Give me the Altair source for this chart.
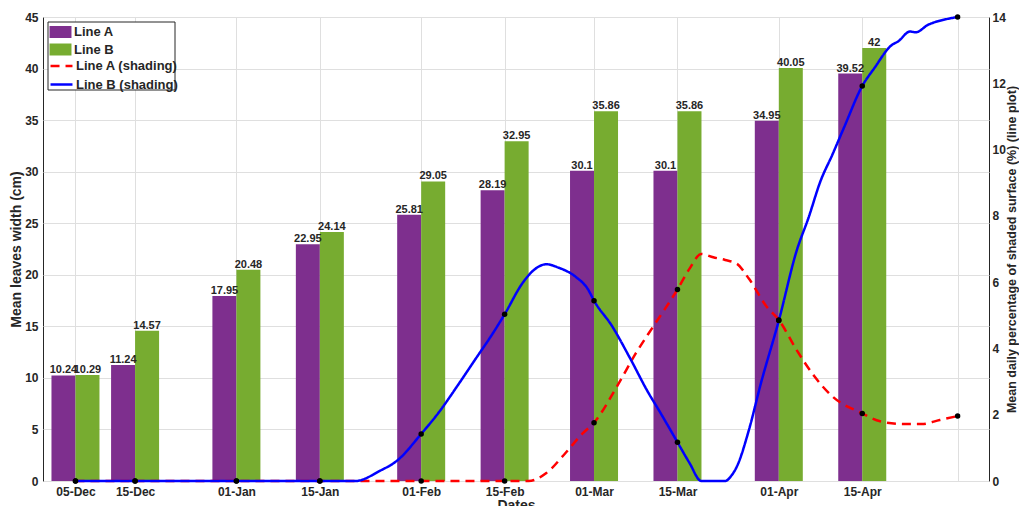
import altair as alt
import pandas as pd

# ---------------- data ----------------
dates = ["2019-12-05", "2019-12-15", "2020-01-01", "2020-01-15", "2020-02-01",
         "2020-02-15", "2020-03-01", "2020-03-15", "2020-04-01", "2020-04-15"]
line_a = [10.24, 11.24, 17.95, 22.95, 25.81, 28.19, 30.1, 30.1, 34.95, 39.52]
line_b = [10.29, 14.57, 20.48, 24.14, 29.05, 32.95, 35.86, 35.86, 40.05, 42]

dot_dates = dates + ["2020-05-01"]
dots_a = [0, 0, 0, 0, 0, 0, 1.76, 5.78, 4.86, 2.04, 1.96]
dots_b = [0, 0, 0, 0, 1.42, 5.03, 5.44, 1.17, 4.84, 11.92, 14.0]

curve_a_dates = ["2019-12-05", "2019-12-15", "2020-01-01", "2020-01-15", "2020-02-01",
                 "2020-02-15", "2020-02-19", "2020-02-22", "2020-02-25", "2020-02-28",
                 "2020-03-01", "2020-03-05", "2020-03-08", "2020-03-11", "2020-03-15",
                 "2020-03-17", "2020-03-19", "2020-03-21", "2020-03-23", "2020-03-25",
                 "2020-03-27", "2020-03-30", "2020-04-01", "2020-04-04", "2020-04-07",
                 "2020-04-10", "2020-04-15", "2020-04-18", "2020-04-22", "2020-04-25",
                 "2020-04-28", "2020-05-01"]
curve_a_vals = [0, 0, 0, 0, 0,
                0, 0, 0.24, 0.80, 1.42,
                1.76, 2.90, 3.85, 4.68, 5.78,
                6.40, 6.85, 6.75, 6.67, 6.55,
                6.10, 5.25, 4.86, 3.95, 3.15,
                2.55, 2.04, 1.80, 1.72, 1.72,
                1.84, 1.96]

curve_b_dates = ["2019-12-05", "2019-12-15", "2020-01-01", "2020-01-15", "2020-01-21",
                 "2020-01-25", "2020-01-28", "2020-02-01", "2020-02-04", "2020-02-07",
                 "2020-02-10", "2020-02-13", "2020-02-15", "2020-02-18", "2020-02-20",
                 "2020-02-22", "2020-02-24", "2020-02-27", "2020-02-29", "2020-03-01",
                 "2020-03-04", "2020-03-07", "2020-03-10", "2020-03-12", "2020-03-15",
                 "2020-03-17", "2020-03-19", "2020-03-23", "2020-03-24", "2020-03-25",
                 "2020-03-27", "2020-03-29", "2020-04-01", "2020-04-04", "2020-04-06",
                 "2020-04-08", "2020-04-10", "2020-04-12", "2020-04-15", "2020-04-17",
                 "2020-04-20", "2020-04-21", "2020-04-23", "2020-04-24", "2020-04-26",
                 "2020-04-29", "2020-05-01"]
curve_b_vals = [0, 0, 0, 0, 0,
                0.30, 0.62, 1.42, 2.08, 2.85,
                3.65, 4.45, 5.03, 5.97, 6.38,
                6.54, 6.44, 6.15, 5.78, 5.44,
                4.68, 3.72, 2.70, 2.10, 1.17,
                0.55, 0.0, 0.0, 0.15, 0.45,
                1.55, 2.95, 4.84, 6.95, 7.95,
                9.05, 9.85, 10.69, 11.92, 12.45,
                13.16, 13.26, 13.56, 13.54, 13.76,
                13.93, 14.0]

bar_series = ["Line A", "Line B"]
line_series = ["Line A (shading)", "Line B (shading)"]
left_ticks = [0, 5, 10, 15, 20, 25, 30, 35, 40, 45]
right_ticks = [0, 2, 4, 6, 8, 10, 12, 14]

# ---------------- tables ----------------
def fmt(v):
    return f"{v:g}"

df_a = pd.DataFrame({"date": dates, "value": line_a, "series": bar_series[0],
                     "label": [fmt(v) for v in line_a]})
df_b = pd.DataFrame({"date": dates, "value": line_b, "series": bar_series[1],
                     "label": [fmt(v) for v in line_b]})
df_curves = pd.concat([
    pd.DataFrame({"date": curve_a_dates, "value": curve_a_vals, "lseries": line_series[0]}),
    pd.DataFrame({"date": curve_b_dates, "value": curve_b_vals, "lseries": line_series[1]}),
])
df_dots = pd.concat([
    pd.DataFrame({"date": dot_dates, "value": dots_a}),
    pd.DataFrame({"date": dot_dates, "value": dots_b}),
])
df_box = pd.DataFrame({"k": [0]})

FONT = "Liberation Sans"
TXT = "#262626"
PURPLE = "#7E2F8E"
GREEN = "#77AC30"


def dt(s):
    y, m, d = [int(p) for p in s.split("-")]
    return alt.DateTime(year=y, month=m, date=d, utc=True)


x_scale = alt.Scale(type="utc", nice=False,
                    domain=[alt.DateTime(year=2019, month=11, date=30, hours=9, minutes=22, utc=True),
                            alt.DateTime(year=2020, month=5, date=5, hours=10, minutes=15, utc=True)])
x_axis = alt.Axis(values=[dt(s) for s in dot_dates], format="%d-%b",
                  labelExpr="utcmonth(datum.value) == 4 ? '' : datum.label",
                  grid=True, ticks=False, domain=False, labelOverlap=False, labelFlush=False,
                  labelPadding=5, title="Dates", titlePadding=1)
x_enc = alt.X("date:T", scale=x_scale, axis=x_axis)

yl_scale = alt.Scale(domain=[0, 45], nice=False)
yl_axis = alt.Axis(values=left_ticks, grid=True, ticks=False, domain=False, labelPadding=5,
                   title="Mean leaves width (cm)", titlePadding=1)
yr_scale = alt.Scale(domain=[0, 14], nice=False)
yr_axis = alt.Axis(values=right_ticks, grid=False, ticks=False, domain=False, orient="right",
                   labelPadding=3, title="Mean daily percentage of shaded surface (%) (line plot)",
                   titleAngle=270, titleBaseline="top", titlePadding=0, titleFontSize=12.5)

leg_common = dict(title=None, orient="none", padding=0, zindex=1,
                  labelFont=FONT, labelFontSize=13, labelFontWeight="bold", labelColor=TXT,
                  labelOffset=7, rowPadding=3.5, symbolSize=144, legendX=11)
leg1 = alt.Legend(legendY=8.5, symbolType="M-1.83,-1H1.83V1H-1.83Z", symbolStrokeWidth=0,
                  **leg_common)
leg2 = alt.Legend(legendY=41.5, symbolType="M-1.83,0H1.83", symbolStrokeWidth=2.5,
                  **leg_common)

fill_scale = alt.Scale(domain=bar_series, range=[PURPLE, GREEN])


def bars(df, off):
    return alt.Chart(df).mark_bar(size=24, xOffset=off).encode(
        x=x_enc,
        y=alt.Y("value:Q", scale=yl_scale, axis=yl_axis),
        fill=alt.Fill("series:N", scale=fill_scale, legend=leg1),
    )


def labels(df, off):
    return alt.Chart(df).mark_text(xOffset=off, dy=-2, baseline="alphabetic", align="center",
                                   font=FONT, fontSize=11, fontWeight="bold", color=TXT).encode(
        x=x_enc,
        y=alt.Y("value:Q", scale=yl_scale),
        text="label:N",
    )


left = alt.layer(bars(df_a, -12), bars(df_b, 12), labels(df_a, -12), labels(df_b, 12))

lines = alt.Chart(df_curves).mark_line(strokeWidth=2.5, interpolate="monotone").encode(
    x=x_enc,
    y=alt.Y("value:Q", scale=yr_scale, axis=yr_axis),
    stroke=alt.Stroke("lseries:N", scale=alt.Scale(domain=line_series, range=["#ff0000", "#0000ff"]),
                      legend=leg2),
    strokeDash=alt.StrokeDash("lseries:N", scale=alt.Scale(domain=line_series, range=[[9, 6], [1, 0]]),
                              legend=leg2),
)
dots = alt.Chart(df_dots).mark_circle(size=30, color="black", opacity=1).encode(
    x=x_enc,
    y=alt.Y("value:Q", scale=yr_scale),
)
box = alt.Chart(df_box).mark_rect(fill="white", stroke=TXT, strokeWidth=1).encode(
    x=alt.value(5), x2=alt.value(132), y=alt.value(5), y2=alt.value(73)
)

right = alt.layer(lines, dots, box)

chart = alt.layer(left, right).resolve_scale(y="independent").properties(
    width=946, height=464,
    autosize=alt.AutoSizeParams(type="none"),
    padding={"left": 35, "top": 9, "right": 30, "bottom": 25},
).configure_view(stroke=TXT, strokeWidth=1).configure_axis(
    labelFont=FONT, titleFont=FONT, labelFontWeight="bold", titleFontWeight="bold",
    labelFontSize=12, titleFontSize=14, labelColor=TXT, titleColor=TXT,
    gridColor="#dfdfdf", gridWidth=1,
)

chart.save("out.html", embed_options={"renderer": "svg", "actions": False})
